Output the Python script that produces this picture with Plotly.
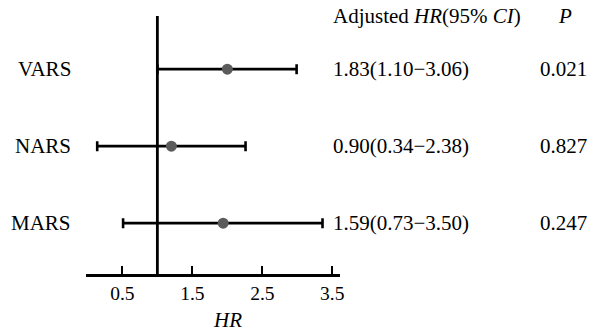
import plotly.graph_objects as go

categories = ["VARS", "NARS", "MARS"]
hr_text = ["1.83(1.10\u22123.06)", "0.90(0.34\u22122.38)", "1.59(0.73\u22123.50)"]
p_text = ["0.021", "0.827", "0.247"]
# plotted positions as drawn in the figure
point = [2.00, 1.20, 1.94]
lower = [1.00, 0.14, 0.51]
upper = [2.99, 2.26, 3.36]
xticks = [0.5, 1.5, 2.5, 3.5]

ypos = [3, 2, 1]
FONT = "Liberation Serif"
TS = 21

fig = go.Figure()
fig.add_trace(go.Scatter(
    x=point, y=ypos, mode="markers",
    marker=dict(size=11, color="#5b5b5b"),
    error_x=dict(type="data", symmetric=False,
                 array=[u - p for u, p in zip(upper, point)],
                 arrayminus=[p - l for p, l in zip(point, lower)],
                 color="black", thickness=2.6, width=5),
    showlegend=False,
))

fig.add_shape(type="line", xref="x", yref="paper", x0=1, x1=1, y0=0, y1=1,
              line=dict(color="black", width=2.8), layer="below")

anns = []
for c, h, p, y in zip(categories, hr_text, p_text, ypos):
    anns.append(dict(text=c, xref="paper", yref="y", x=0, y=y, xanchor="right",
                     xshift=-13, showarrow=False, font=dict(size=TS)))
    anns.append(dict(text=h, xref="paper", yref="y", x=1, y=y, xanchor="left",
                     xshift=-9, showarrow=False, font=dict(size=TS)))
    anns.append(dict(text=p, xref="paper", yref="y", x=1, y=y, xanchor="center",
                     xshift=223, showarrow=False, font=dict(size=TS)))
anns.append(dict(text="Adjusted <i>HR</i>(95% <i>CI</i>)", xref="paper", yref="paper",
                 x=1, y=1, xanchor="left", yanchor="middle", xshift=-9, yshift=0,
                 showarrow=False, font=dict(size=TS)))
anns.append(dict(text="<i>P</i>", xref="paper", yref="paper", x=1, y=1,
                 xanchor="center", yanchor="middle", xshift=225, yshift=0,
                 showarrow=False, font=dict(size=TS)))
anns.append(dict(text="<i>HR</i>", xref="x", yref="paper", x=2.0, y=0,
                 xanchor="center", yanchor="middle", yshift=-46,
                 showarrow=False, font=dict(size=TS)))

fig.update_layout(
    width=596, height=333,
    margin=dict(l=86, r=256, t=16, b=59),
    plot_bgcolor="white", paper_bgcolor="white",
    font=dict(family=FONT, size=TS, color="black"),
    annotations=anns,
    xaxis=dict(range=[-0.02, 3.61], tickvals=xticks, ticktext=[str(v) for v in xticks],
               showgrid=False, zeroline=False, showline=True, linecolor="black",
               linewidth=2.6, ticks="inside", ticklen=8, tickwidth=2, tickcolor="black",
               tickfont=dict(size=19.5)),
    yaxis=dict(range=[0.34, 3.69], showgrid=False, zeroline=False, showline=False,
               showticklabels=False, ticks=""),
)

fig.write_html("out.html", config={"displayModeBar": False},
               post_script="document.body.style.margin='0';document.body.style.overflow='hidden';")
